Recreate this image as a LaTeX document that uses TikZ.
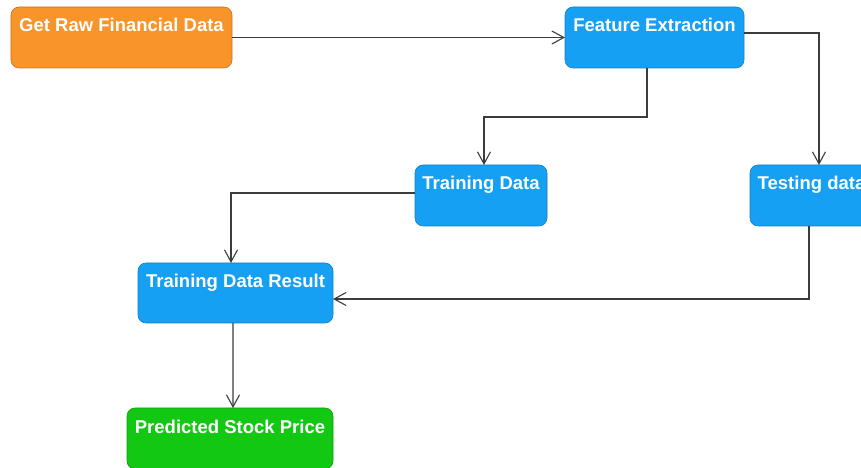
\documentclass[tikz,border=0pt]{standalone}
\usepackage{fontspec}
\setmainfont{Liberation Sans}
\usetikzlibrary{arrows.meta}
\definecolor{boxorange}{HTML}{F7942A}
\definecolor{boxblue}{HTML}{16A0F3}
\definecolor{boxgreen}{HTML}{12C812}
\definecolor{lineg}{HTML}{3C3C3C}
\tikzset{
  box/.style={draw=#1!80!black, fill=#1, line width=0.6bp, rounded corners=8bp,
    minimum height=61bp, inner sep=0pt, outer sep=0pt},
  lab/.style={anchor=base, yshift=-25bp, text=white, inner sep=0pt,
    font=\fontsize{18.5bp}{22bp}\selectfont\bfseries},
  conn/.style={draw=lineg, line width=1.1bp, -{Straight Barb[length=12bp,width=13bp,line width=1.1bp]}},
}
\begin{document}
\begin{tikzpicture}[x=1bp,y=-1bp]
\useasboundingbox (0,0) rectangle (861,468);
\clip (0,0) rectangle (861,468);
\node[box=boxorange, minimum width=221bp, label={[lab]north:Get Raw Financial Data}] (raw) at (121.5,37.5) {};
\node[box=boxblue, minimum width=179bp, label={[lab]north:Feature Extraction}] (fe) at (654.5,37.5) {};
\node[box=boxblue, minimum width=132bp, label={[lab]north:Training Data}] (td) at (481,195.5) {};
\node[box=boxblue, minimum width=123bp, label={[lab]north:Testing data}] (te) at (811.5,195.5) {};
\node[box=boxblue, minimum width=195bp, minimum height=60bp, label={[lab]north:Training Data Result}] (res) at (235.5,293) {};
\node[box=boxgreen, minimum width=206bp, label={[lab]north:Predicted Stock Price}] (pr) at (230,438.5) {};
\draw[conn] (raw.east) -- (fe.west);
\draw[conn] ([yshift=4.5bp]fe.east) -| ([xshift=7.5bp]te.north);
\draw[conn] ([xshift=-7.5bp]fe.south) -- ++(0,49) -| ([xshift=3bp]td.north);
\draw[conn] ([yshift=2.5bp]td.west) -| ([xshift=-4.5bp]res.north);
\draw[conn] ([xshift=-2.5bp]te.south) |- ([yshift=-6bp]res.east);
\draw[conn] ([xshift=-2.5bp]res.south) -- ([xshift=3bp]pr.north);
\end{tikzpicture}
\end{document}
